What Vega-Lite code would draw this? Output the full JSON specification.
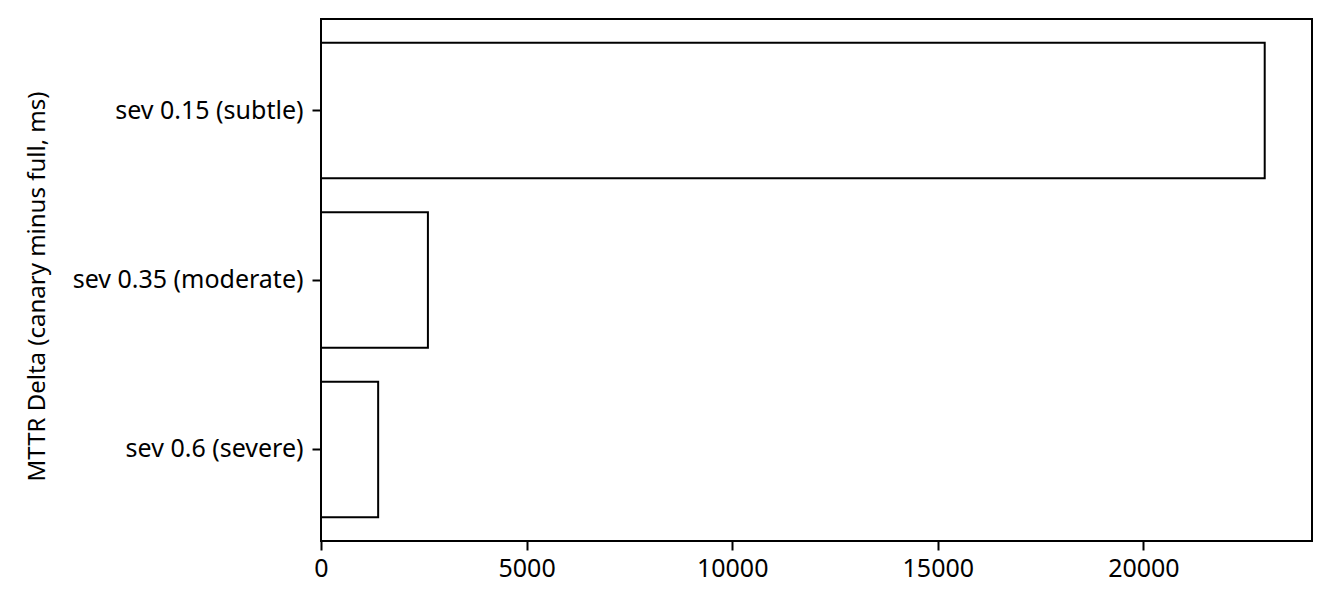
{
  "$schema": "https://vega.github.io/schema/vega-lite/v6.json",
  "width": 991,
  "height": 522,
  "autosize": {"type": "none"},
  "padding": {"left": 321, "top": 19, "right": 21, "bottom": 75},
  "background": "white",
  "config": {
    "font": "Noto Sans",
    "view": {"stroke": "black", "strokeWidth": 2},
    "axis": {
      "domain": false,
      "grid": false,
      "ticks": true,
      "tickColor": "black",
      "tickWidth": 2,
      "tickSize": 9,
      "labelColor": "black",
      "labelFontSize": 25,
      "labelPadding": 6,
      "labelLimit": 400,
      "titleColor": "black",
      "titleFontSize": 24,
      "titleFontWeight": "normal"
    }
  },
  "data": {
    "values": [
      {"severity": "sev 0.15 (subtle)", "delta": 22950},
      {"severity": "sev 0.35 (moderate)", "delta": 2600},
      {"severity": "sev 0.6 (severe)", "delta": 1390}
    ]
  },
  "mark": {"type": "bar", "fill": "white", "stroke": "black", "strokeWidth": 2},
  "encoding": {
    "y": {
      "field": "severity",
      "type": "nominal",
      "sort": null,
      "scale": {"paddingInner": 0.2, "paddingOuter": 0.14},
      "axis": {
        "title": "MTTR Delta (canary minus full, ms)",
        "titleX": -284,
        "titleY": 267,
        "titleAngle": -90,
        "titleAlign": "center",
        "titleBaseline": "middle",
        "labelPadding": 9
      }
    },
    "x": {
      "field": "delta",
      "type": "quantitative",
      "scale": {"domain": [0, 24100], "nice": false, "zero": true},
      "axis": {"title": null, "values": [0, 5000, 10000, 15000, 20000], "format": "d", "labelFlush": false}
    }
  }
}
